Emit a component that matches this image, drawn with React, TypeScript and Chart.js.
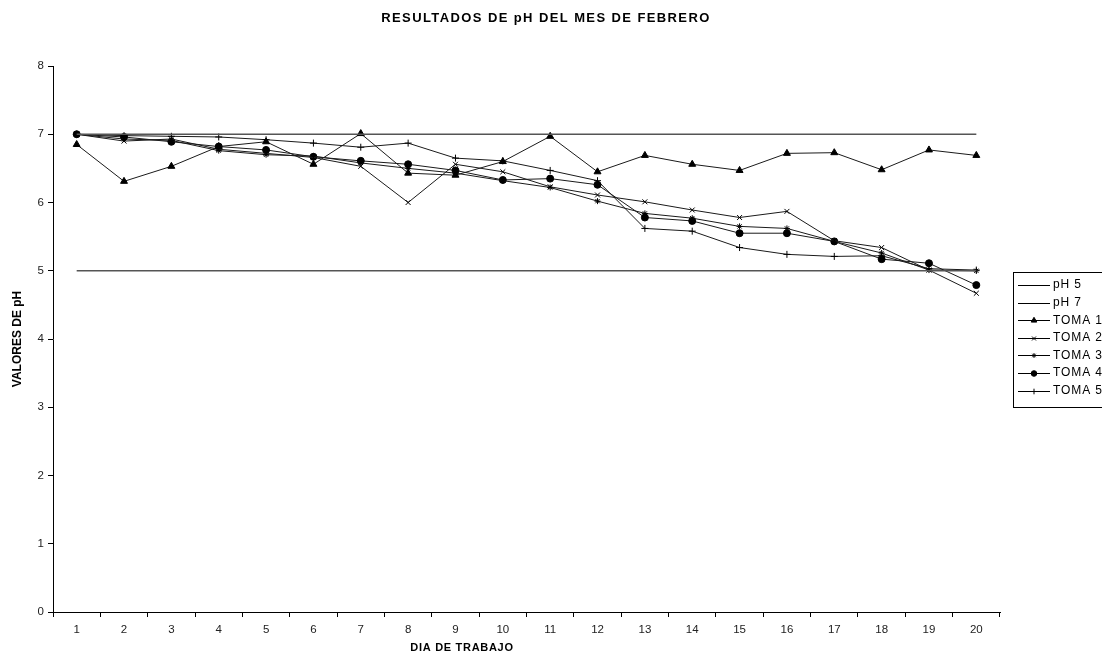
import React, { useEffect, useRef } from "react";
import { Chart, registerables } from "chart.js";
import { drawPoint } from "chart.js/helpers";

Chart.register(...registerables);

const dias = ["1", "2", "3", "4", "5", "6", "7", "8", "9", "10", "11", "12", "13", "14", "15", "16", "17", "18", "19", "20"];
const yTicks = [0, 1, 2, 3, 4, 5, 6, 7, 8];

const ph5 = [5, 5, 5, 5, 5, 5, 5, 5, 5, 5, 5, 5, 5, 5, 5, 5, 5, 5, 5, 5];
const ph7 = [7, 7, 7, 7, 7, 7, 7, 7, 7, 7, 7, 7, 7, 7, 7, 7, 7, 7, 7, 7];
const toma1 = [6.85, 6.31, 6.53, 6.82, 6.89, 6.56, 7.01, 6.43, 6.40, 6.60, 6.97, 6.45, 6.69, 6.56, 6.47, 6.72, 6.73, 6.48, 6.77, 6.69];
const toma2 = [7.0, 6.90, 6.93, 6.78, 6.72, 6.66, 6.53, 6.00, 6.56, 6.45, 6.23, 6.11, 6.01, 5.89, 5.78, 5.87, 5.44, 5.34, 5.01, 4.67];
const toma3 = [7.0, 6.93, 6.91, 6.76, 6.70, 6.68, 6.58, 6.50, 6.43, 6.32, 6.22, 6.02, 5.84, 5.77, 5.65, 5.62, 5.43, 5.26, 5.01, 5.0];
const toma4 = [7.0, 6.96, 6.89, 6.82, 6.77, 6.67, 6.61, 6.56, 6.47, 6.33, 6.35, 6.26, 5.78, 5.73, 5.55, 5.55, 5.43, 5.17, 5.11, 4.79];
const toma5 = [7.0, 6.98, 6.97, 6.96, 6.92, 6.87, 6.81, 6.87, 6.65, 6.61, 6.47, 6.32, 5.62, 5.58, 5.34, 5.24, 5.21, 5.22, 5.03, 5.01];

const FONT = "'Liberation Sans', Arial, sans-serif";
const NARROW = "'Liberation Sans Narrow', 'Liberation Sans', Arial, sans-serif";

type Serie = { label: string; data: number[]; style: any; radius: number; color: string; width: number };

const series: Serie[] = [
  { label: "pH 5", data: ph5, style: false, radius: 0, color: "#555", width: 1.3 },
  { label: "pH 7", data: ph7, style: false, radius: 0, color: "#555", width: 1.3 },
  { label: "TOMA 1", data: toma1, style: "triangle", radius: 4, color: "#1a1a1a", width: 1 },
  { label: "TOMA 2", data: toma2, style: "crossRot", radius: 3.5, color: "#1a1a1a", width: 1 },
  { label: "TOMA 3", data: toma3, style: "star", radius: 3, color: "#1a1a1a", width: 1 },
  { label: "TOMA 4", data: toma4, style: "circle", radius: 3.5, color: "#1a1a1a", width: 1 },
  { label: "TOMA 5", data: toma5, style: "cross", radius: 3.5, color: "#1a1a1a", width: 1 },
];

const textos = {
  id: "textos",
  afterDraw(chart: any) {
    const { ctx, chartArea } = chart;
    ctx.save();
    ctx.fillStyle = "#000";
    ctx.textAlign = "center";
    ctx.textBaseline = "middle";
    ctx.font = `bold 13px ${FONT}`;
    ctx.letterSpacing = "1.4px";
    ctx.fillText("RESULTADOS DE pH DEL MES DE FEBRERO", 546, 18);

    ctx.font = `bold 11px ${FONT}`;
    ctx.letterSpacing = "0.7px";
    ctx.fillText("DIA DE TRABAJO", 462, 648);

    ctx.save();
    ctx.translate(18, (chartArea.top + chartArea.bottom) / 2);
    ctx.rotate(-Math.PI / 2);
    ctx.font = `bold 12px ${NARROW}`;
    ctx.letterSpacing = "0px";
    ctx.fillText("VALORES DE pH", 0, 0);
    ctx.restore();

    // leyenda
    const bx = 1013.5;
    const by = 272.5;
    ctx.strokeStyle = "#000";
    ctx.lineWidth = 1;
    ctx.strokeRect(bx, by, 120, 135);
    ctx.textAlign = "left";
    ctx.font = `12px ${FONT}`;
    ctx.letterSpacing = "0.9px";
    series.forEach((s, i) => {
      const y = 285 + i * 17.6;
      ctx.strokeStyle = "#000";
      ctx.lineWidth = 1;
      ctx.beginPath();
      ctx.moveTo(1018, Math.round(y) + 0.5);
      ctx.lineTo(1050, Math.round(y) + 0.5);
      ctx.stroke();
      if (s.style) {
        ctx.fillStyle = "#000";
        ctx.strokeStyle = "#000";
        drawPoint(ctx, { pointStyle: s.style, radius: s.radius * 0.8, borderWidth: 1, rotation: 0 }, 1034, Math.round(y) + 0.5);
      }
      ctx.fillStyle = "#000";
      ctx.fillText(s.label, 1053, y);
    });
    ctx.restore();
  },
};

export default function App() {
  const ref = useRef<HTMLCanvasElement | null>(null);

  useEffect(() => {
    if (!ref.current) return;
    const chart = new Chart(ref.current, {
      type: "line",
      data: {
        labels: dias,
        datasets: series.map((s) => ({
          label: s.label,
          data: s.data,
          borderColor: s.color,
          backgroundColor: "#000",
          pointBackgroundColor: "#000",
          pointBorderColor: "#000",
          borderWidth: s.width,
          pointStyle: s.style,
          pointRadius: s.radius,
          pointBorderWidth: 1,
          tension: 0,
          fill: false,
        })),
      },
      options: {
        animation: false,
        responsive: false,
        maintainAspectRatio: false,
        events: [],
        layout: { padding: { left: 0, top: 66, right: 102, bottom: 0 } },
        plugins: {
          legend: { display: false },
          title: { display: false },
          tooltip: { enabled: false },
        },
        scales: {
          x: {
            type: "category",
            offset: true,
            afterFit: (s: any) => {
              s.height = 45;
            },
            border: { color: "#000", width: 1 },
            grid: { offset: true, drawOnChartArea: false, drawTicks: true, tickLength: 5, color: "#000" },
            ticks: { color: "#222", font: { family: FONT, size: 11.5 }, padding: 6, maxRotation: 0, autoSkip: false },
          },
          y: {
            min: 0,
            max: 8,
            afterFit: (s: any) => {
              s.width = 53;
            },
            afterBuildTicks: (s: any) => {
              s.ticks = yTicks.map((v) => ({ value: v }));
            },
            border: { color: "#000", width: 1 },
            grid: { drawOnChartArea: false, drawTicks: true, tickLength: 5, color: "#000" },
            ticks: { color: "#222", font: { family: FONT, size: 11.5 }, padding: 4 },
          },
        },
      },
      plugins: [textos],
    });
    return () => chart.destroy();
  }, []);

  return (
    <div style={{ position: "fixed", left: 0, top: 0, width: 1102, height: 657, overflow: "hidden", background: "#fff" }}>
      <canvas ref={ref} width={1102} height={657} style={{ display: "block" }} />
    </div>
  );
}
